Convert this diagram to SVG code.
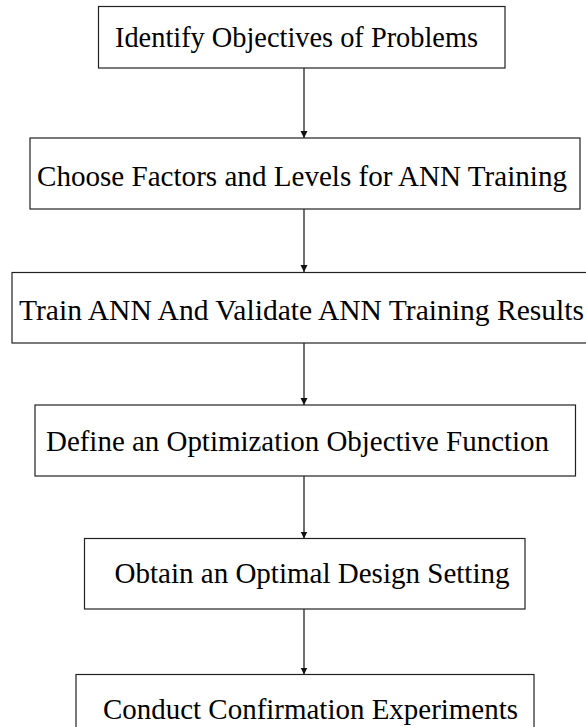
<svg xmlns="http://www.w3.org/2000/svg" width="586" height="727" viewBox="0 0 586 727">
<style>
.box{fill:#fff;stroke:#222;stroke-width:1.2}
.lbl{font-family:'Liberation Serif','Times New Roman',serif;font-size:28.5px;fill:#000}
.con{stroke:#111;stroke-width:1.2;fill:none;marker-end:url(#arr)}
</style>
<defs>
<marker id="arr" markerUnits="userSpaceOnUse" markerWidth="8" markerHeight="8" refX="7" refY="3.5" orient="auto">
<path d="M0,0 L7,3.5 L0,7 z" fill="#111"/>
</marker>
</defs>
<rect width="586" height="727" fill="#fff"/>
<g id="connectors">
<line class="con" x1="304" y1="68" x2="304" y2="138"/>
<line class="con" x1="304" y1="209" x2="304" y2="272"/>
<line class="con" x1="304" y1="343" x2="304" y2="405"/>
<line class="con" x1="304" y1="476" x2="304" y2="538.5"/>
<line class="con" x1="304" y1="609" x2="304" y2="674.5"/>
</g>
<g id="n1">
<rect class="box" x="98.5" y="6.5" width="406.5" height="61.5"/>
<text class="lbl" x="115" y="47" textLength="363" lengthAdjust="spacingAndGlyphs">Identify Objectives of Problems</text>
</g>
<g id="n2">
<rect class="box" x="30" y="138" width="550" height="71"/>
<text class="lbl" x="37" y="186" textLength="530" lengthAdjust="spacingAndGlyphs">Choose Factors and Levels for ANN Training</text>
</g>
<g id="n3">
<rect class="box" x="12" y="272.5" width="590" height="70.5"/>
<text class="lbl" x="19" y="319.5" textLength="565" lengthAdjust="spacingAndGlyphs">Train ANN And Validate ANN Training Results</text>
</g>
<g id="n4">
<rect class="box" x="35" y="405" width="540.5" height="71"/>
<text class="lbl" x="46" y="450.5" textLength="503" lengthAdjust="spacingAndGlyphs">Define an Optimization Objective Function</text>
</g>
<g id="n5">
<rect class="box" x="84.5" y="538.5" width="440.5" height="70.5"/>
<text class="lbl" x="114.5" y="582.5" textLength="395" lengthAdjust="spacingAndGlyphs">Obtain an Optimal Design Setting</text>
</g>
<g id="n6">
<rect class="box" x="76" y="674.5" width="458" height="70"/>
<text class="lbl" x="103" y="719" textLength="415" lengthAdjust="spacingAndGlyphs">Conduct Confirmation Experiments</text>
</g>
</svg>
